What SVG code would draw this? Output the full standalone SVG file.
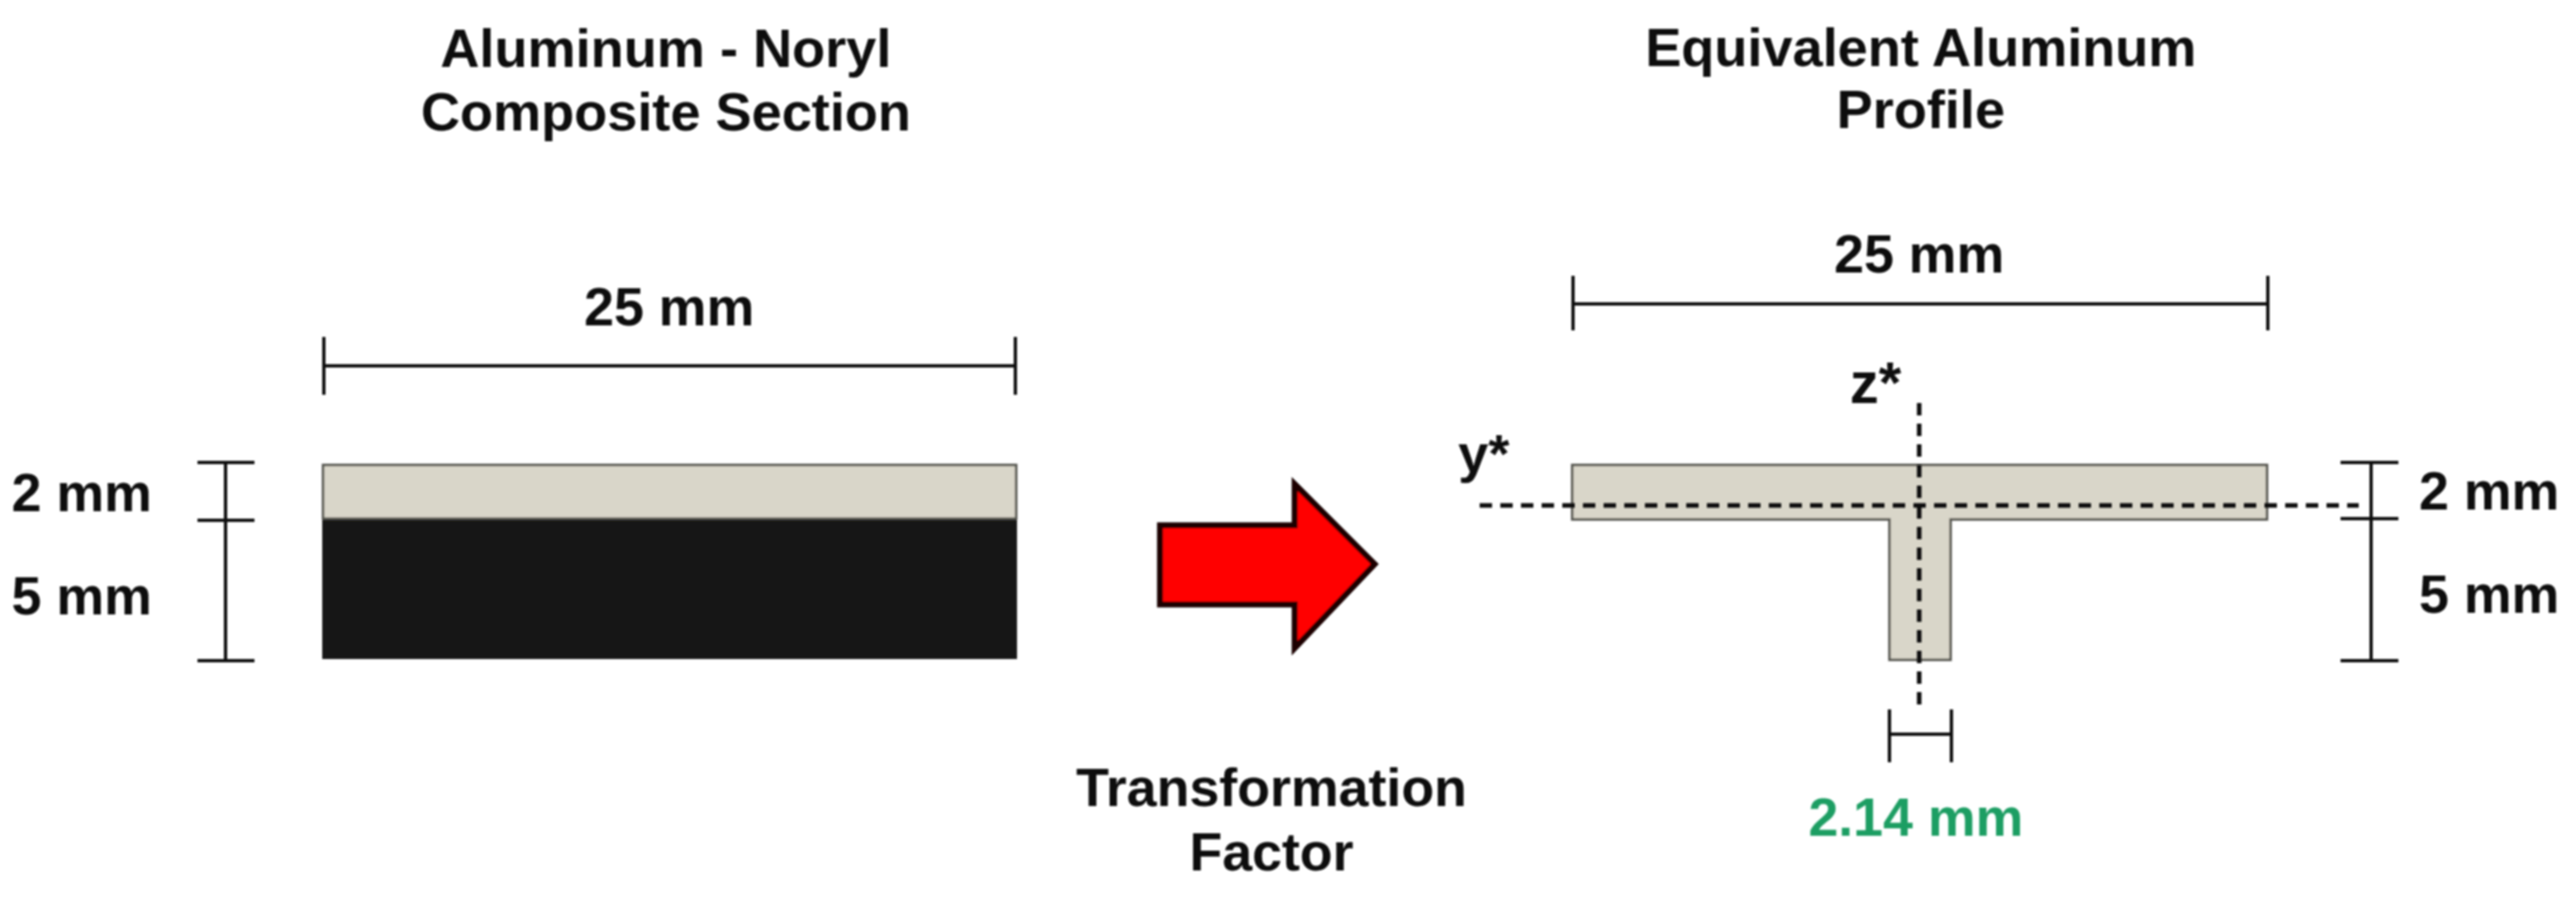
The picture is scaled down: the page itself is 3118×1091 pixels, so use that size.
<svg xmlns="http://www.w3.org/2000/svg" width="3118" height="1091" viewBox="0 0 3118 1091">
<defs><filter id="soft" x="-5%" y="-5%" width="110%" height="110%" filterUnits="objectBoundingBox"><feGaussianBlur stdDeviation="0.9"/></filter></defs>
<style>
text{font-family:"Liberation Sans",Arial,sans-serif;font-weight:700;font-size:65px;fill:#0a0a0a;text-anchor:middle}
.big{font-size:65.5px}
.star{font-size:70px}
.dim{stroke:#111;stroke-width:4;fill:none}
.dash{stroke:#111;stroke-width:5.5;fill:none;stroke-dasharray:15 10}
.al{fill:#d9d6c9;stroke:#55544e;stroke-width:3}
svg>g{filter:url(#soft)}
</style>
<rect width="3118" height="1091" fill="#fff"/>
<g id="title-left"><text class="big" x="806" y="81">Aluminum - Noryl</text><text class="big" x="806" y="158">Composite Section</text></g>
<g id="title-right"><text class="big" x="2325" y="80">Equivalent Aluminum</text><text class="big" x="2325" y="155">Profile</text></g>
<g id="composite-section">
<rect x="390" y="628" width="841" height="170" fill="#151513"/>
<rect class="al" x="391" y="563" width="839" height="65"/>
</g>
<g id="equivalent-profile">
<path class="al" d="M1903 563H2744V629H2361V799H2287V629H1903Z"/>
</g>
<g id="red-arrow"><path d="M1404 636H1567V586L1664 683L1567 785V732H1404Z" fill="#f00" stroke="#1a0000" stroke-width="7"/></g>
<g id="connectors">
<path class="dim" d="M392 408V478M1229 408V478M392 443H1229"/>
<path class="dim" d="M239 560H308M239 630H308M239 800H308M273 560V800"/>
<path class="dim" d="M1904 334V400M2745 334V400M1904 368H2745"/>
<path class="dim" d="M2833 560H2903M2833 628H2903M2833 800H2903M2870 560V800"/>
<path class="dim" d="M2287 859V923M2362 859V923M2287 889H2362"/>
<path class="dash" d="M1791 612H2855"/>
<path class="dash" d="M2323 488V862"/>
</g>
<g id="labels">
<text x="810" y="394">25 mm</text>
<text x="2323" y="330">25 mm</text>
<text x="99" y="619">2 mm</text>
<text x="99" y="744">5 mm</text>
<text x="3013" y="617">2 mm</text>
<text x="3013" y="742">5 mm</text>
<text class="star" x="2270" y="488">z*</text>
<text class="big" x="1796" y="572">y*</text>
<text x="2319" y="1012" style="fill:#1f9e63">2.14 mm</text>
<text x="1539" y="976">Transformation</text>
<text x="1539" y="1054">Factor</text>
</g>
</svg>
